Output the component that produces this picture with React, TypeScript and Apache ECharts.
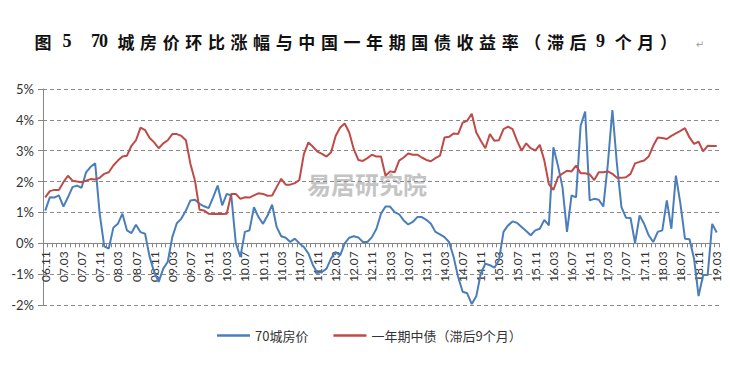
import React, { useEffect, useRef } from "react";
import * as echarts from "echarts";

// ---- categories: monthly, 2006.11 .. 2019.03 ----
const firstYear = 2006;
const firstMonth = 11;
const monthCount = 149;
const months: string[] = [];
for (let k = 0; k < monthCount; k++) {
  const m = firstMonth - 1 + k;
  const y = firstYear + Math.floor(m / 12);
  const mm = (m % 12) + 1;
  months.push(String(y % 100).padStart(2, "0") + "." + String(mm).padStart(2, "0"));
}

// ---- series (%) ----
const housePrice70 = [
  1.06, 1.49, 1.48, 1.55, 1.19, 1.49, 1.82, 1.87, 1.80, 2.30,
  2.48, 2.59, 0.95, -0.10, -0.17, 0.50, 0.63, 0.96, 0.42, 0.33,
  0.60, 0.36, 0.31, -0.44, -0.93, -1.25, -0.82, -0.60, 0.20, 0.65,
  0.80, 1.06, 1.39, 1.41, 1.28, 1.20, 1.14, 1.49, 1.87, 1.23,
  1.60, 1.55, 0.00, -0.44, 0.37, 0.42, 1.17, 0.85, 0.63, 0.90,
  1.25, 0.53, 0.23, 0.18, 0.04, 0.15, 0.00, -0.12, -0.33, -0.71,
  -0.96, -0.93, -0.82, -0.49, -0.28, -0.39, 0.00, 0.18, 0.23, 0.19,
  0.04, 0.04, 0.20, 0.47, 0.96, 1.19, 1.19, 1.01, 0.94, 0.74,
  0.61, 0.69, 0.85, 0.85, 0.76, 0.63, 0.37, 0.29, 0.20, 0.04,
  -0.44, -1.09, -1.57, -1.62, -1.97, -1.72, -0.98, -0.66, -0.71, -0.79,
  -0.55, 0.37, 0.58, 0.71, 0.66, 0.53, 0.40, 0.26, 0.42, 0.47,
  0.76, 0.58, 3.11, 2.52, 1.82, 0.37, 1.55, 1.49, 3.81, 4.27,
  1.39, 1.44, 1.41, 1.19, 2.57, 4.32, 2.57, 1.17, 0.83, 0.82,
  0.01, 0.90, 0.63, 0.26, 0.04, 0.37, 0.42, 1.39, 0.47, 2.19,
  1.28, 0.15, 0.13, -0.50, -1.71, -1.03, -1.03, 0.63, 0.35,
];

const bondYieldLag9 = [
  1.49, 1.69, 1.73, 1.73, 1.98, 2.19, 2.03, 2.00, 1.98, 2.03,
  2.08, 2.07, 2.12, 2.25, 2.30, 2.52, 2.68, 2.81, 2.84, 3.16,
  3.34, 3.75, 3.67, 3.41, 3.27, 3.08, 3.24, 3.34, 3.54, 3.54,
  3.48, 3.34, 2.57, 2.03, 1.09, 1.06, 0.96, 0.95, 0.96, 0.95,
  0.96, 1.60, 1.60, 1.44, 1.49, 1.48, 1.55, 1.62, 1.60, 1.54,
  1.55, 1.82, 2.09, 1.90, 1.90, 1.95, 2.05, 2.89, 3.27, 3.13,
  2.97, 2.90, 2.81, 2.95, 3.48, 3.75, 3.88, 3.59, 3.05, 2.70,
  2.67, 2.76, 2.87, 2.81, 2.81, 2.19, 2.33, 2.30, 2.68, 2.78,
  2.91, 2.87, 2.87, 2.78, 2.70, 2.66, 2.76, 2.84, 3.43, 3.45,
  3.56, 3.54, 3.91, 3.97, 4.20, 3.59, 3.32, 3.08, 3.54, 3.32,
  3.34, 3.70, 3.78, 3.70, 3.32, 3.00, 3.24, 3.08, 3.00, 3.19,
  2.68, 1.92, 1.73, 2.14, 2.26, 2.35, 2.33, 2.52, 2.27, 2.27,
  2.23, 2.05, 2.30, 2.30, 2.33, 2.25, 2.12, 2.12, 2.14, 2.25,
  2.59, 2.64, 2.68, 2.81, 3.16, 3.43, 3.41, 3.38, 3.48, 3.56,
  3.64, 3.73, 3.43, 3.22, 3.29, 2.98, 3.16, 3.15, 3.15,
];

const seriesNames = ["70城房价", "一年期中债（滞后9个月）"];
const seriesColors = ["#4A7EBB", "#BE4B48"];
const yMin = -2;
const yMax = 5;
const yStep = 1;

// ---- title pieces ----
const titleLead = [
  { t: "图", x: 43, latin: false },
  { t: "5", x: 67, latin: true },
  { t: "7", x: 95.5, latin: true },
  { t: "0", x: 103.5, latin: true },
];
const titleBody = ["城", "房", "价", "环", "比", "涨", "幅", "与", "中", "国", "一", "年", "期", "国", "债", "收", "益", "率", "（", "滞", "后", "9", "个", "月", "）"];
const watermark = "易居研究院";

const GRID_TOP = 89;
const GRID_BOTTOM = 60;
const CHART_H = 365;

export default function App() {
  const ref = useRef<HTMLDivElement>(null);

  useEffect(() => {
    if (!ref.current) return;
    const chart = echarts.init(ref.current, undefined, { renderer: "svg" });

    const titleY = 41;
    const glyphs: any[] = [];
    titleLead.forEach((g) => {
      glyphs.push({
        type: "text",
        x: g.x,
        y: titleY,
        style: {
          text: g.t,
          fill: "#111",
          fontSize: g.latin ? 18 : 17,
          fontWeight: "bold",
          fontFamily: g.latin ? "Liberation Serif" : "Noto Sans CJK SC",
          align: "center",
          verticalAlign: "middle",
        },
      });
    });
    titleBody.forEach((t, i) => {
      const latin = /[0-9]/.test(t);
      glyphs.push({
        type: "text",
        x: 126 + i * 22.6,
        y: titleY,
        style: {
          text: t,
          fill: "#111",
          fontSize: latin ? 18 : 17,
          fontWeight: "bold",
          fontFamily: latin ? "Liberation Serif" : "Noto Sans CJK SC",
          align: "center",
          verticalAlign: "middle",
        },
      });
    });
    glyphs.push({
      type: "text",
      x: 700,
      y: 44,
      style: {
        text: "↵",
        fill: "#9a9a9a",
        fontSize: 10,
        fontFamily: "DejaVu Sans",
        align: "center",
        verticalAlign: "middle",
      },
    });
    glyphs.push({
      type: "text",
      x: 367,
      y: 183,
      z: -1,
      style: {
        text: watermark,
        fill: "#c4c4c4",
        fontSize: 24,
        fontWeight: "bold",
        fontFamily: "Noto Sans CJK SC",
        align: "center",
        verticalAlign: "middle",
      },
    });

    // distance from the grid bottom up to the value 0
    const plotH = CHART_H - GRID_TOP - GRID_BOTTOM;
    const zeroOffset = -((0 - yMin) / (yMax - yMin)) * plotH;

    chart.setOption({
      animation: false,
      backgroundColor: "#ffffff",
      graphic: glyphs,
      grid: { left: 43, right: 11, top: GRID_TOP, bottom: GRID_BOTTOM, containLabel: false },
      legend: {
        data: seriesNames,
        icon: "rect",
        left: 212,
        top: 324,
        itemWidth: 33,
        itemHeight: 2.5,
        itemGap: 25,
        textStyle: { fontSize: 13, color: "#333", fontFamily: "Noto Sans CJK SC" },
      },
      xAxis: {
        type: "category",
        data: months,
        boundaryGap: true,
        offset: zeroOffset,
        axisLine: { onZero: false, lineStyle: { color: "#868686", width: 1 } },
        axisTick: { show: true, interval: 0, length: 4, lineStyle: { color: "#868686" } },
        axisLabel: {
          interval: 3,
          rotate: 90,
          fontSize: 12,
          color: "#333",
          fontFamily: "Lato",
          margin: 8,
        },
        splitLine: { show: false },
      },
      yAxis: {
        type: "value",
        min: yMin,
        max: yMax,
        interval: yStep,
        axisLine: { show: true, lineStyle: { color: "#868686", width: 1 } },
        axisTick: { show: true, length: 5, lineStyle: { color: "#868686" } },
        axisLabel: {
          formatter: "{value}%",
          fontSize: 13,
          color: "#333",
          fontFamily: "Lato",
          margin: 9,
        },
        splitLine: { show: true, lineStyle: { color: "#8a8a8a", type: [4, 3], width: 1 } },
      },
      series: [
        {
          name: seriesNames[0],
          type: "line",
          data: housePrice70,
          symbol: "none",
          lineStyle: { color: seriesColors[0], width: 2 },
          itemStyle: { color: seriesColors[0] },
        },
        {
          name: seriesNames[1],
          type: "line",
          data: bondYieldLag9,
          symbol: "none",
          lineStyle: { color: seriesColors[1], width: 2 },
          itemStyle: { color: seriesColors[1] },
        },
      ],
    });

    return () => chart.dispose();
  }, []);

  return (
    <div
      ref={ref}
      style={{ position: "fixed", left: 0, top: 0, width: 730, height: 365, background: "#fff" }}
    />
  );
}
